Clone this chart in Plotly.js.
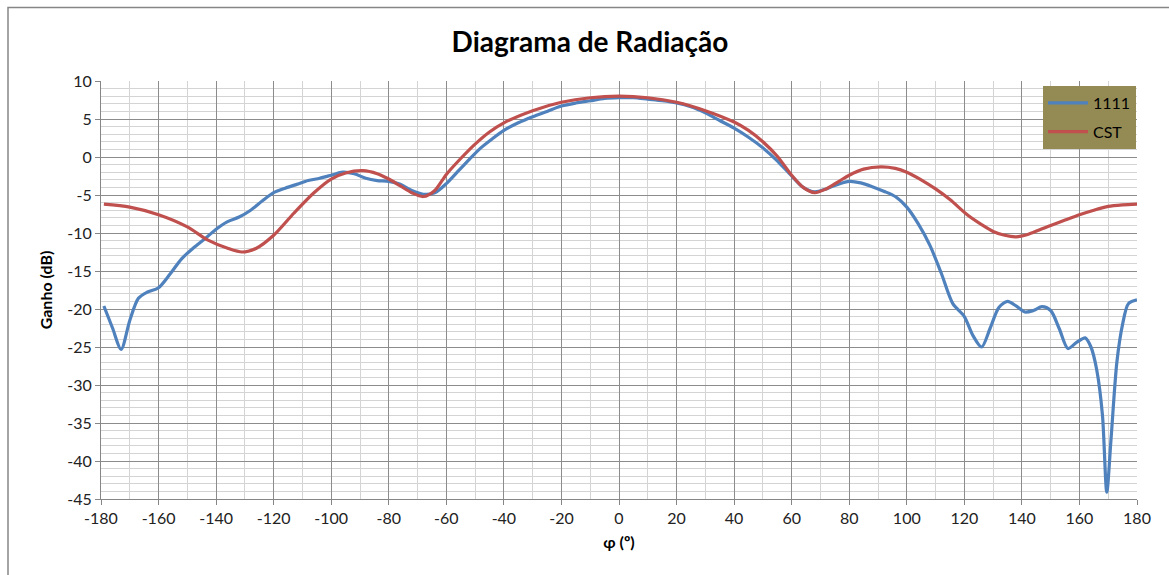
<!DOCTYPE html>
<html>
<head>
<meta charset="utf-8">
<script src="https://cdn.plot.ly/plotly-3.0.1.min.js"></script>
<style>html,body{margin:0;padding:0;background:#fff;}#chart{width:1169px;height:575px;}</style>
</head>
<body>
<div id="chart"></div>
<script>
// Series "1111" (measured)
const phi1111 = [-179,-176,-173,-170,-167,-164,-160,-156,-152,-148,-144,-140,-136,-132,-128,-124,-120,-116,-112,-108,-104,-100,-96,-92,-88,-84,-80,-76,-72,-68,-64,-60,-56,-52,-48,-44,-40,-35,-30,-25,-20,-15,-10,-5,0,5,10,15,20,25,30,35,40,45,50,55,60,64,68,72,76,80,84,88,92,96,100,104,108,112,116,120,123,126,129,132,135,138,141,144,147,150,153,156,159,162,164,166,168,169.5,171,173,175,177,180];
const gain1111 = [-19.6,-22.5,-25.3,-21.5,-18.6,-17.8,-17.2,-15.4,-13.4,-12.0,-10.8,-9.5,-8.5,-7.9,-7.0,-5.8,-4.7,-4.1,-3.6,-3.1,-2.8,-2.4,-2.0,-2.2,-2.8,-3.1,-3.2,-3.6,-4.4,-4.9,-4.7,-3.5,-1.9,-0.3,1.2,2.4,3.5,4.5,5.3,6.0,6.7,7.1,7.4,7.7,7.8,7.8,7.6,7.4,7.1,6.6,5.8,4.8,3.8,2.6,1.2,-0.5,-2.5,-4.0,-4.6,-4.2,-3.6,-3.2,-3.4,-3.9,-4.5,-5.2,-6.6,-8.8,-11.6,-15.3,-19.3,-21.0,-23.5,-25.0,-22.5,-19.8,-19.0,-19.6,-20.4,-20.2,-19.7,-20.2,-22.6,-25.2,-24.4,-23.8,-25.0,-28.0,-34.0,-44.1,-37.0,-27.0,-22.0,-19.3,-18.8];

// Series "CST" (simulated)
const phiCST = [-179,-170,-160,-150,-143,-136,-131,-126,-120,-113,-106,-100,-95,-89,-84,-80,-76,-72,-68,-64,-60,-55,-50,-45,-40,-30,-20,-10,0,10,20,30,40,45,50,55,60,64,68,72,76,80,85,91,96,100,105,110,115,121,126,130,134,138,142,146,150,155,160,165,170,175,180];
const gainCST = [-6.2,-6.6,-7.6,-9.2,-10.9,-12.0,-12.5,-12.0,-10.3,-7.4,-4.7,-2.9,-2.1,-1.8,-2.2,-2.9,-3.8,-4.7,-5.2,-4.4,-2.3,-0.2,1.7,3.3,4.5,6.1,7.2,7.8,8.0,7.8,7.2,6.1,4.6,3.5,2.0,0.1,-2.4,-4.0,-4.7,-4.2,-3.3,-2.4,-1.6,-1.3,-1.5,-2.0,-3.0,-4.2,-5.6,-7.6,-8.9,-9.8,-10.3,-10.5,-10.2,-9.6,-9.0,-8.3,-7.6,-7.0,-6.5,-6.3,-6.2];

const seriesNames = ["1111", "CST"];
const xTicks = [-180,-160,-140,-120,-100,-80,-60,-40,-20,0,20,40,60,80,100,120,140,160,180];
const xTickText = ["-180","-160","-140","-120","-100","-80","-60","-40","-20","0","20","40","60","80","100","120","140","160","180"];
const yTicks = [10,5,0,-5,-10,-15,-20,-25,-30,-35,-40,-45];
const yTickText = ["10","5","0","-5","-10","-15","-20","-25","-30","-35","-40","-45"];

const FONT = "Lato, 'Open Sans', sans-serif";

const traces = [
  {x: phi1111, y: gain1111, name: seriesNames[0], legendgroup: "g1", type: "scatter", mode: "lines",
   line: {color: "#4F81BD", width: 3.2, shape: "spline", smoothing: 0.8}},
  {x: phiCST, y: gainCST, name: seriesNames[1], legendgroup: "g2", type: "scatter", mode: "lines",
   line: {color: "#C0504D", width: 3.2, shape: "spline", smoothing: 0.8}}
];

const L = 101, R = 1137, T = 81, B = 499;
const pw = R - L, ph = B - T;
const px = v => (v - L) / pw;
const py = v => (B - v) / ph;

const layout = {
  width: 1169, height: 575,
  margin: {l: L, r: 1169 - R, t: T, b: 575 - B, pad: 0},
  paper_bgcolor: "#ffffff", plot_bgcolor: "#ffffff",
  font: {family: FONT, size: 16, color: "#222"},
  title: {text: "<b>Diagrama de Radiação</b>", font: {family: FONT, size: 28, color: "#000"},
          xref: "container", x: 590 / 1169, xanchor: "center",
          yref: "container", y: 1 - 42 / 575, yanchor: "middle"},
  showlegend: true,
  legend: {x: px(1043), y: py(86), xanchor: "left", yanchor: "top",
           bgcolor: "#948A54", bordercolor: "#948A54", borderwidth: 0,
           font: {family: FONT, size: 16, color: "#000"},
           itemwidth: 40, tracegroupgap: 5},
  xaxis: {
    range: [-180, 180], tickmode: "array", tickvals: xTicks, ticktext: xTickText,
    ticks: "outside", ticklen: 5, tickcolor: "#868686",
    showline: true, linecolor: "#868686", linewidth: 1,
    showgrid: true, gridcolor: "#8c8c8c", gridwidth: 1, zeroline: false,
    minor: {dtick: 10, showgrid: true, gridcolor: "#d4d4d4", gridwidth: 1, ticks: ""},
    tickfont: {family: FONT, size: 16, color: "#222"},
    title: {text: "<b>φ (º)</b>", font: {family: FONT, size: 16, color: "#000"}, standoff: 10}
  },
  yaxis: {
    range: [-45, 10], tickmode: "array", tickvals: yTicks, ticktext: yTickText,
    ticks: "outside", ticklen: 5, tickcolor: "#868686",
    showline: true, linecolor: "#868686", linewidth: 1,
    showgrid: true, gridcolor: "#8c8c8c", gridwidth: 1, zeroline: false,
    minor: {dtick: 1, showgrid: true, gridcolor: "#d4d4d4", gridwidth: 1, ticks: ""},
    tickfont: {family: FONT, size: 16, color: "#222"},
    title: {text: "<b>Ganho (dB)</b>", font: {family: FONT, size: 16, color: "#000"}, standoff: 10}
  },
  shapes: [
    {type: "rect", xref: "paper", yref: "paper",
     x0: px(8), x1: px(1200), y0: py(620), y1: py(7.5),
     line: {color: "#868686", width: 1.5}, fillcolor: "rgba(0,0,0,0)", layer: "below"}
  ]
};

Plotly.newPlot("chart", traces, layout, {displayModeBar: false, staticPlot: true});
</script>
</body>
</html>
